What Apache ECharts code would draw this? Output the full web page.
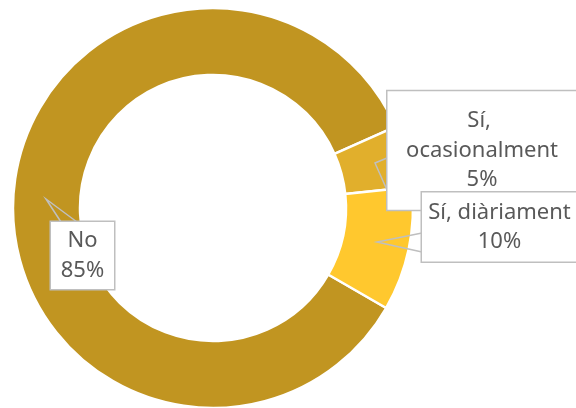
<!DOCTYPE html>
<html>
<head>
<meta charset="utf-8">
<script src="https://cdn.jsdelivr.net/npm/echarts@6/dist/echarts.min.js"></script>
<style>html,body{margin:0;padding:0;background:#fff;}#c{width:576px;height:408px;}</style>
</head>
<body>
<div id="c"></div>
<script>
const categories = ["No", "Sí, ocasionalment", "Sí, diàriament"];
const values = [85, 5, 10];
const colors = ["#C19521", "#E1AF2C", "#FFC82E"];

// label box placement (layout only)
const boxes = [
  { x: 82.5, y: 255.5, w: 47, pad: [4, 8], tail: [[61, 222], [46, 199], [77, 222]] },
  { x: 482, y: 150.5, w: 171, pad: [15, 9], tail: [[387, 158], [375, 163], [387, 190]] },
  { x: 499.5, y: 227, w: 147, pad: [5, 4], tail: [[422, 233], [377, 242], [422, 252]] }
];

const pieBase = {
  type: 'pie',
  center: [213, 208],
  radius: [133, 200],
  startAngle: 330,
  clockwise: true,
  avoidLabelOverlap: false,
  emphasis: { disabled: true },
  silent: true
};

const chart = echarts.init(document.getElementById('c'), null, { renderer: 'canvas' });
chart.setOption({
  animation: false,
  backgroundColor: '#ffffff',
  series: [
    Object.assign({}, pieBase, {
      z: 2,
      itemStyle: { borderColor: '#ffffff', borderWidth: 2.5 },
      label: { show: false },
      labelLine: { show: false },
      data: categories.map((name, i) => ({ name: name, value: values[i], itemStyle: { color: colors[i] } }))
    }),
    Object.assign({}, pieBase, {
      z: 5,
      itemStyle: { color: 'rgba(0,0,0,0)', borderWidth: 0 },
      label: {
        show: true,
        position: 'outside',
        formatter: '{b}\n{c}%',
        fontFamily: 'Noto Sans',
        fontSize: 22,
        lineHeight: 29.5,
        color: '#595959',
        align: 'center',
        backgroundColor: '#ffffff',
        borderColor: '#BFBFBF',
        borderWidth: 1.5
      },
      labelLine: { show: true, lineStyle: { color: '#BFBFBF', width: 1.5 }, smooth: false },
      labelLayout: function (p) {
        const b = boxes[p.dataIndex];
        return { x: b.x, y: b.y, align: 'center', verticalAlign: 'middle', labelLinePoints: b.tail };
      },
      data: categories.map((name, i) => ({
        name: name,
        value: values[i],
        label: {
          width: boxes[i].w,
          padding: boxes[i].pad,
          overflow: i === 1 ? 'break' : 'none'
        }
      }))
    })
  ]
});
</script>
</body>
</html>
